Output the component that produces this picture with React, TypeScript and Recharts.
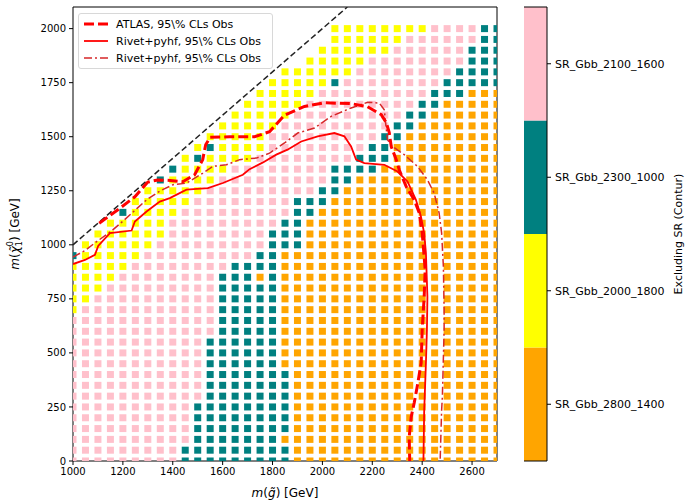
import React from 'react';
import { ScatterChart, Scatter, XAxis, YAxis, ReferenceLine, BarChart, Bar } from 'recharts';

// ---------- data ----------
const X_TICKS = [1000, 1200, 1400, 1600, 1800, 2000, 2200, 2400, 2600];
const Y_TICKS = [0, 250, 500, 750, 1000, 1250, 1500, 1750, 2000];

// grid of scan points: columns at m(gluino) = 1000, 1050, ... 2700
const GRID_X0 = 1000;
const GRID_DX = 50;
// rows m(neutralino) from top to bottom
const ROW_Y = [2000, 1950, 1900, 1850, 1800, 1750, 1700, 1650, 1600, 1550, 1500, 1450, 1400, 1350, 1300, 1250, 1200, 1150, 1100, 1050, 1000, 950, 900, 850, 800, 750, 700, 650, 600, 550, 500, 450, 400, 350, 300, 250, 200, 150, 100, 50, 0];
// run-length: count + code ('.' none, y yellow, p pink, t teal, o orange)
const ROW_RUNS = [
  '21. 8y 4p 2t',
  '21. 6y 6p 2t',
  '20. 6y 6p 3t',
  '19. 5y 8p 3t',
  '17. 6y 8p 4t',
  '16. 5y 1t 8p 5t',
  '15. 5y 9p 3t 3o',
  '14. 5y 9p 2t 5o',
  '13. 5y 9p 2t 6o',
  '12. 5y 9p 2t 7o',
  '11. 5y 9p 2t 8o',
  '10. 1y 1t 4y 8p 2t 9o',
  '9. 1y 1t 4y 8p 3t 9o',
  '8. 1t 4y 8p 4t 10o',
  '7. 1t 4y 9p 2t 12o',
  '6. 5y 9p 2t 13o',
  '5. 5y 8p 3t 14o',
  '4. 1t 4y 9p 2t 15o',
  '3. 5y 9p 2t 16o',
  '2. 6y 8p 3t 16o',
  '1. 6y 9p 3t 16o',
  '1t 5y 9p 2t 18o',
  '5y 8p 4t 18o',
  '4y 8p 3t 1o 1t 18o',
  '3y 9p 5t 18o',
  '2y 10p 5t 18o',
  '1y 11p 5t 18o',
  '12p 5t 18o',
  '12p 5t 18o',
  '11p 6t 18o',
  '11p 6t 18o',
  '11p 6t 18o',
  '11p 7t 17o',
  '11p 7t 17o',
  '11p 7t 17o',
  '10p 8t 17o',
  '10p 8t 17o',
  '10p 8t 17o',
  '10p 7t 18o',
  '9p 9t 17o',
  '9p 9t 17o',
];

// colour bar categories, bottom to top
const CATEGORIES = ['SR_Gbb_2800_1400', 'SR_Gbb_2000_1800', 'SR_Gbb_2300_1000', 'SR_Gbb_2100_1600'];
const CAT_CODES = ['o', 'y', 't', 'p'];
const CAT_COLORS = ['#ffa500', '#ffff00', '#008080', '#ffc0cb'];

const ATLAS_OBS = [
  { x: 1105, y: 1100 }, { x: 1180, y: 1162 }, { x: 1248, y: 1222 }, { x: 1300, y: 1290 },
  { x: 1340, y: 1300 }, { x: 1390, y: 1298 }, { x: 1440, y: 1292 }, { x: 1488, y: 1324 },
  { x: 1520, y: 1394 }, { x: 1532, y: 1463 }, { x: 1550, y: 1497 }, { x: 1628, y: 1500 },
  { x: 1728, y: 1500 }, { x: 1788, y: 1523 }, { x: 1848, y: 1600 }, { x: 1928, y: 1640 },
  { x: 2008, y: 1657 }, { x: 2116, y: 1653 }, { x: 2180, y: 1639 }, { x: 2236, y: 1602 },
  { x: 2256, y: 1565 }, { x: 2268, y: 1519 }, { x: 2276, y: 1454 }, { x: 2296, y: 1394 },
  { x: 2308, y: 1347 }, { x: 2336, y: 1269 }, { x: 2368, y: 1208 }, { x: 2388, y: 1148 },
  { x: 2400, y: 1056 }, { x: 2408, y: 944 }, { x: 2412, y: 884 }, { x: 2408, y: 759 },
  { x: 2400, y: 606 }, { x: 2396, y: 454 }, { x: 2380, y: 343 }, { x: 2368, y: 269 },
  { x: 2356, y: 204 }, { x: 2348, y: 111 }, { x: 2350, y: 0 },
];

const RIVET_OBS = [
  { x: 1000, y: 911 }, { x: 1048, y: 930 }, { x: 1088, y: 954 }, { x: 1101, y: 995 },
  { x: 1148, y: 1054 }, { x: 1235, y: 1066 }, { x: 1248, y: 1108 }, { x: 1295, y: 1154 },
  { x: 1348, y: 1200 }, { x: 1388, y: 1216 }, { x: 1455, y: 1255 }, { x: 1541, y: 1262 },
  { x: 1601, y: 1286 }, { x: 1681, y: 1324 }, { x: 1708, y: 1350 }, { x: 1760, y: 1380 },
  { x: 1815, y: 1417 }, { x: 1860, y: 1440 }, { x: 1915, y: 1478 }, { x: 1981, y: 1502 },
  { x: 2048, y: 1517 }, { x: 2088, y: 1502 }, { x: 2115, y: 1455 }, { x: 2135, y: 1394 },
  { x: 2168, y: 1378 }, { x: 2248, y: 1370 }, { x: 2301, y: 1339 }, { x: 2341, y: 1293 },
  { x: 2375, y: 1208 }, { x: 2395, y: 1131 }, { x: 2408, y: 1054 }, { x: 2415, y: 962 },
  { x: 2421, y: 760 }, { x: 2419, y: 606 }, { x: 2415, y: 452 }, { x: 2408, y: 230 },
  { x: 2405, y: 0 },
];

const RIVET_OBS_DD = [
  { x: 1000, y: 943 }, { x: 1050, y: 975 }, { x: 1095, y: 1015 }, { x: 1150, y: 1060 },
  { x: 1201, y: 1110 }, { x: 1295, y: 1208 }, { x: 1350, y: 1250 }, { x: 1401, y: 1278 },
  { x: 1455, y: 1285 }, { x: 1521, y: 1332 }, { x: 1561, y: 1363 }, { x: 1615, y: 1370 },
  { x: 1668, y: 1394 }, { x: 1735, y: 1401 }, { x: 1788, y: 1424 }, { x: 1848, y: 1471 },
  { x: 1901, y: 1517 }, { x: 1968, y: 1540 }, { x: 2035, y: 1594 }, { x: 2115, y: 1633 },
  { x: 2181, y: 1659 }, { x: 2228, y: 1656 }, { x: 2248, y: 1625 }, { x: 2255, y: 1548 },
  { x: 2261, y: 1486 }, { x: 2281, y: 1455 }, { x: 2328, y: 1417 }, { x: 2381, y: 1363 },
  { x: 2421, y: 1301 }, { x: 2448, y: 1239 }, { x: 2468, y: 1147 }, { x: 2478, y: 1054 },
  { x: 2485, y: 900 }, { x: 2488, y: 700 }, { x: 2488, y: 606 }, { x: 2481, y: 298 },
  { x: 2478, y: 236 }, { x: 2472, y: 0 },
];

const DIAGONAL = [{ x: 1000, y: 1000 }, { x: 2100, y: 2100 }];

const LEGEND_LABELS = ['ATLAS, 95\\% CLs Obs', 'Rivet+pyhf, 95\\% CLs Obs', 'Rivet+pyhf, 95\\% CLs Obs'];
const COLORBAR_LABEL = 'Excluding SR (Contur)';

// ---------- helpers ----------
function decodeGrid() {
  const out: Record<string, { x: number; y: number }[]> = { o: [], y: [], t: [], p: [] };
  ROW_RUNS.forEach((row, ri) => {
    let col = 0;
    row.split(' ').forEach((tok) => {
      const n = parseInt(tok, 10);
      const c = tok.slice(String(n).length);
      for (let k = 0; k < n; k++) {
        if (c !== '.') out[c].push({ x: GRID_X0 + GRID_DX * col, y: ROW_Y[ri] });
        col++;
      }
    });
  });
  return out;
}
const GRID = decodeGrid();

const FONT = 'DejaVu Sans';
const DD_COLOR = '#d62728';
const SQ = 7;
const makeSquare = (fill: string) => (props: any) => {
  const { cx, cy } = props;
  if (cx == null || cy == null) return <g />;
  return <rect x={cx - SQ / 2} y={cy - SQ / 2} width={SQ} height={SQ} fill={fill} />;
};
const NoShape = () => <g />;

const XLabel = (props: any) => {
  const vb = props.viewBox || { x: 73, width: 424 };
  const cx = vb.x + vb.width / 2;
  return (
    <text x={cx} y={497} textAnchor="middle" fontSize={12} fontFamily={FONT} fill="#000">
      <tspan fontStyle="italic">m</tspan>(<tspan fontStyle="italic">g̃</tspan>) [GeV]
    </text>
  );
};

const YLabel = () => {
  const cx = 19;
  const cy = 234;
  return (
    <text x={cx} y={cy} transform={`rotate(-90, ${cx}, ${cy})`} textAnchor="middle" fontSize={12} fontFamily={FONT} fill="#000">
      <tspan fontStyle="italic">m</tspan>(<tspan fontStyle="italic">χ̃</tspan>
      <tspan fontSize={8} dy={3}>1</tspan>
      <tspan fontSize={8} dx={-5} dy={-9}>0</tspan>
      <tspan dy={6}>) [GeV]</tspan>
    </text>
  );
};

const CBLabel = (props: any) => {
  const vb = props.viewBox || { x: 23, y: 7, width: 138, height: 454 };
  const cx = vb.x + vb.width - 7;
  const cy = vb.y + vb.height / 2;
  return (
    <text x={cx} y={cy} transform={`rotate(-90, ${cx}, ${cy})`} textAnchor="middle" dominantBaseline="central" fontSize={11} fontFamily={FONT} fill="#000">
      {COLORBAR_LABEL}
    </text>
  );
};

const CB_DATA = [
  CATEGORIES.reduce((acc: any, c) => { acc[c] = 1; return acc; }, { name: 'cb' }),
];

const Legend = () => (
  <div
    style={{
      position: 'absolute', left: 78, top: 13, width: 193, height: 54,
      border: '1px solid #d8d8d8', borderRadius: 3, background: 'rgba(255,255,255,0.85)',
    }}
  >
    <svg width={193} height={54} style={{ display: 'block' }}>
      <line x1={5} x2={29} y1={10} y2={10} stroke="#ff0000" strokeWidth={3} strokeDasharray="10 4" />
      <line x1={5} x2={29} y1={27} y2={27} stroke="#ff0000" strokeWidth={1.8} />
      <line x1={5} x2={29} y1={44} y2={44} stroke={DD_COLOR} strokeWidth={1.5} strokeDasharray="8 3 2 3" />
      {LEGEND_LABELS.map((t, i) => (
        <text key={i} x={37} y={10 + 17 * i} dominantBaseline="central" fontSize={11} fontFamily={FONT} fill="#000">
          {t}
        </text>
      ))}
    </svg>
  </div>
);

export default function App() {
  const tickStyle = { fontSize: 10, fill: '#000', fontFamily: FONT };
  return (
    <div style={{ position: 'absolute', left: 0, top: 0, width: 685, height: 501, background: '#fff' }}>
      <div style={{ position: 'absolute', left: 0, top: 0 }}>
        <ScatterChart width={510} height={501} margin={{ top: 7, right: 13, bottom: 0, left: 0 }}>
          <XAxis
            type="number" dataKey="x" domain={[1000, 2700]} ticks={X_TICKS} allowDataOverflow
            height={40} tick={tickStyle} tickSize={4} tickMargin={3}
            axisLine={{ stroke: '#000' }} tickLine={{ stroke: '#000' }}
            label={<XLabel />}
          />
          <YAxis
            type="number" dataKey="y" domain={[0, 2100]} ticks={Y_TICKS} allowDataOverflow
            width={73} tick={tickStyle} tickSize={4} tickMargin={3}
            axisLine={{ stroke: '#000' }} tickLine={{ stroke: '#000' }}
            label={<YLabel />}
          />
          {CAT_CODES.map((code, i) => (
            <Scatter key={code} name={CATEGORIES[i]} data={GRID[code]} fill={CAT_COLORS[i]}
              shape={makeSquare(CAT_COLORS[i])} isAnimationActive={false} />
          ))}
          <Scatter name="diag" data={DIAGONAL} shape={NoShape} isAnimationActive={false}
            line={{ stroke: '#222', strokeWidth: 1.5, strokeDasharray: '6 3' }} />
          <Scatter name="rivetdd" data={RIVET_OBS_DD} shape={NoShape} isAnimationActive={false}
            line={{ stroke: DD_COLOR, strokeWidth: 1.5, strokeDasharray: '8 3 2 3' }} />
          <Scatter name="rivet" data={RIVET_OBS} shape={NoShape} isAnimationActive={false}
            line={{ stroke: '#ff0000', strokeWidth: 1.8 }} />
          <Scatter name="atlas" data={ATLAS_OBS} shape={NoShape} isAnimationActive={false}
            line={{ stroke: '#ff0000', strokeWidth: 3, strokeDasharray: '10 4' }} />
          <ReferenceLine x={2700} stroke="#000" strokeWidth={1} ifOverflow="visible" />
          <ReferenceLine y={2100} stroke="#000" strokeWidth={1} ifOverflow="visible" />
        </ScatterChart>
      </div>
      <Legend />
      <div style={{ position: 'absolute', left: 524, top: 0 }}>
        <BarChart width={161} height={501} data={CB_DATA} margin={{ top: 7, right: 0, bottom: 40, left: 0 }}
          barCategoryGap={0} barGap={0}>
          <XAxis dataKey="name" hide />
          <YAxis yAxisId="l" orientation="left" width={0} type="number" domain={[0, 4]} tick={false}
            tickLine={false} axisLine={{ stroke: '#000' }} />
          <YAxis yAxisId="r" orientation="right" width={138} type="number" domain={[0, 4]}
            ticks={[0.5, 1.5, 2.5, 3.5]} tickFormatter={(v: number) => CATEGORIES[Math.floor(v)]}
            tick={{ fontSize: 11, fill: '#000', fontFamily: FONT }} tickSize={4} tickMargin={4}
            axisLine={{ stroke: '#000' }} tickLine={{ stroke: '#000' }} label={<CBLabel />} />
          {CATEGORIES.map((c, i) => (
            <Bar key={c} yAxisId="r" dataKey={c} stackId="s" fill={CAT_COLORS[i]} isAnimationActive={false} />
          ))}
          <ReferenceLine yAxisId="r" y={4} stroke="#000" ifOverflow="visible" />
          <ReferenceLine yAxisId="r" y={0} stroke="#000" ifOverflow="visible" />
        </BarChart>
      </div>
    </div>
  );
}
